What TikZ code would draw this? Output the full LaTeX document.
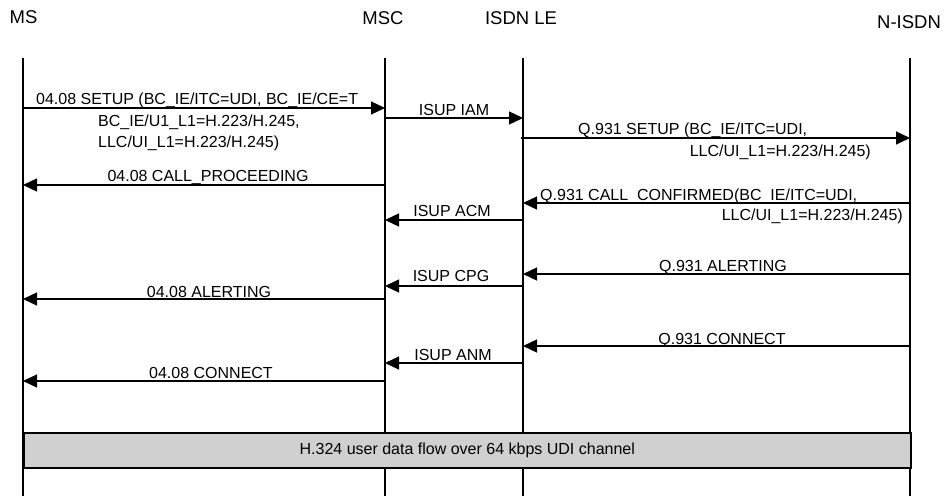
\documentclass[tikz,border=0pt]{standalone}
\usepackage{fontspec}
\setmainfont{Liberation Sans}
\usetikzlibrary{arrows.meta}
\definecolor{boxgray}{RGB}{208,208,208}
\begin{document}
\begin{tikzpicture}[x=1pt,y=-1pt,
  life/.style={line width=1.2pt},
  msg/.style={line width=1.3pt,-{Triangle[length=14pt,width=13pt]}},
  lbl/.style={font=\fontsize{16}{18}\selectfont,inner sep=0pt,anchor=base},
  hdr/.style={font=\fontsize{18.5}{22}\selectfont,inner sep=0pt},
  flowbox/.style={draw,line width=1.6pt,fill=boxgray,inner sep=0pt,
    font=\fontsize{16}{18}\selectfont}]
\useasboundingbox (0,0) rectangle (947,500);

% headers
\node[hdr] (hms)  at (23.5,17.5) {MS};
\node[hdr] (hmsc) at (383,18.3) {MSC};
\node[hdr] (hle)  at (521,18.3) {ISDN LE};
\node[hdr] (hnis) at (909,22) {N-ISDN};

% lifelines
\coordinate (msT) at (23,58);   \coordinate (msB) at (23,496);
\coordinate (mscT) at (385,58); \coordinate (mscB) at (385,496);
\coordinate (leT) at (523,58);  \coordinate (leB) at (523,496);
\coordinate (niT) at (910,58);  \coordinate (niB) at (910,496);
\draw[life] (msT) -- (msB);
\draw[life] (mscT) -- (mscB);
\draw[life] (leT) -- (leB);
\draw[life] (niT) -- (niB);

% message end points
\coordinate (a1) at (23,108);  \coordinate (b1) at (385,108);
\coordinate (a2) at (385,118); \coordinate (b2) at (523,118);
\coordinate (a3) at (521,138); \coordinate (b3) at (910,138);
\coordinate (a4) at (385,185); \coordinate (b4) at (23,185);
\coordinate (a5) at (910,203); \coordinate (b5) at (523,203);
\coordinate (a6) at (523,220); \coordinate (b6) at (385,220);
\coordinate (a7) at (910,274); \coordinate (b7) at (523,274);
\coordinate (a8) at (523,286); \coordinate (b8) at (385,286);
\coordinate (a9) at (385,299); \coordinate (b9) at (23,299);
\coordinate (a10) at (910,346); \coordinate (b10) at (523,346);
\coordinate (a11) at (523,363); \coordinate (b11) at (385,363);
\coordinate (a12) at (385,381); \coordinate (b12) at (23,381);

\foreach \i in {1,...,12} {\draw[msg] (a\i) -- (b\i);}

% labels
\node[lbl,anchor=base west] (l1a) at (36,105) {04.08 SETUP (BC\_IE/ITC=UDI, BC\_IE/CE=T};
\node[lbl,anchor=base west] (l1b) at (98,126) {BC\_IE/U1\_L1=H.223/H.245,};
\node[lbl,anchor=base west] (l1c) at (98,147) {LLC/UI\_L1=H.223/H.245)};
\node[lbl] (l2) at (454,115.7) {ISUP IAM};
\node[lbl,anchor=base west] (l3a) at (578,135) {Q.931 SETUP (BC\_IE/ITC=UDI,};
\node[lbl,anchor=base east] (l3b) at (871,156.7) {LLC/UI\_L1=H.223/H.245)};
\node[lbl] (l4) at (208,181.7) {04.08 CALL\_PROCEEDING};
\node[lbl,anchor=base west] (l5a) at (540,200) {Q.931 CALL\_CONFIRMED(BC\_IE/ITC=UDI,};
\node[lbl,anchor=base east] (l5b) at (903,220.7) {LLC/UI\_L1=H.223/H.245)};
\node[lbl] (l6) at (452,216) {ISUP ACM};
\node[lbl] (l7) at (723,271.7) {Q.931 ALERTING};
\node[lbl] (l8) at (451,281.7) {ISUP CPG};
\node[lbl] (l9) at (209,297.7) {04.08 ALERTING};
\node[lbl] (l10) at (722,344.3) {Q.931 CONNECT};
\node[lbl] (l11) at (453,360) {ISUP ANM};
\node[lbl] (l12) at (211,378) {04.08 CONNECT};

% data flow box
\node[flowbox,minimum width=887pt,minimum height=35pt,anchor=north west] (flow) at (23,432)
  {H.324 user data flow over 64 kbps UDI channel};
\end{tikzpicture}
\end{document}
